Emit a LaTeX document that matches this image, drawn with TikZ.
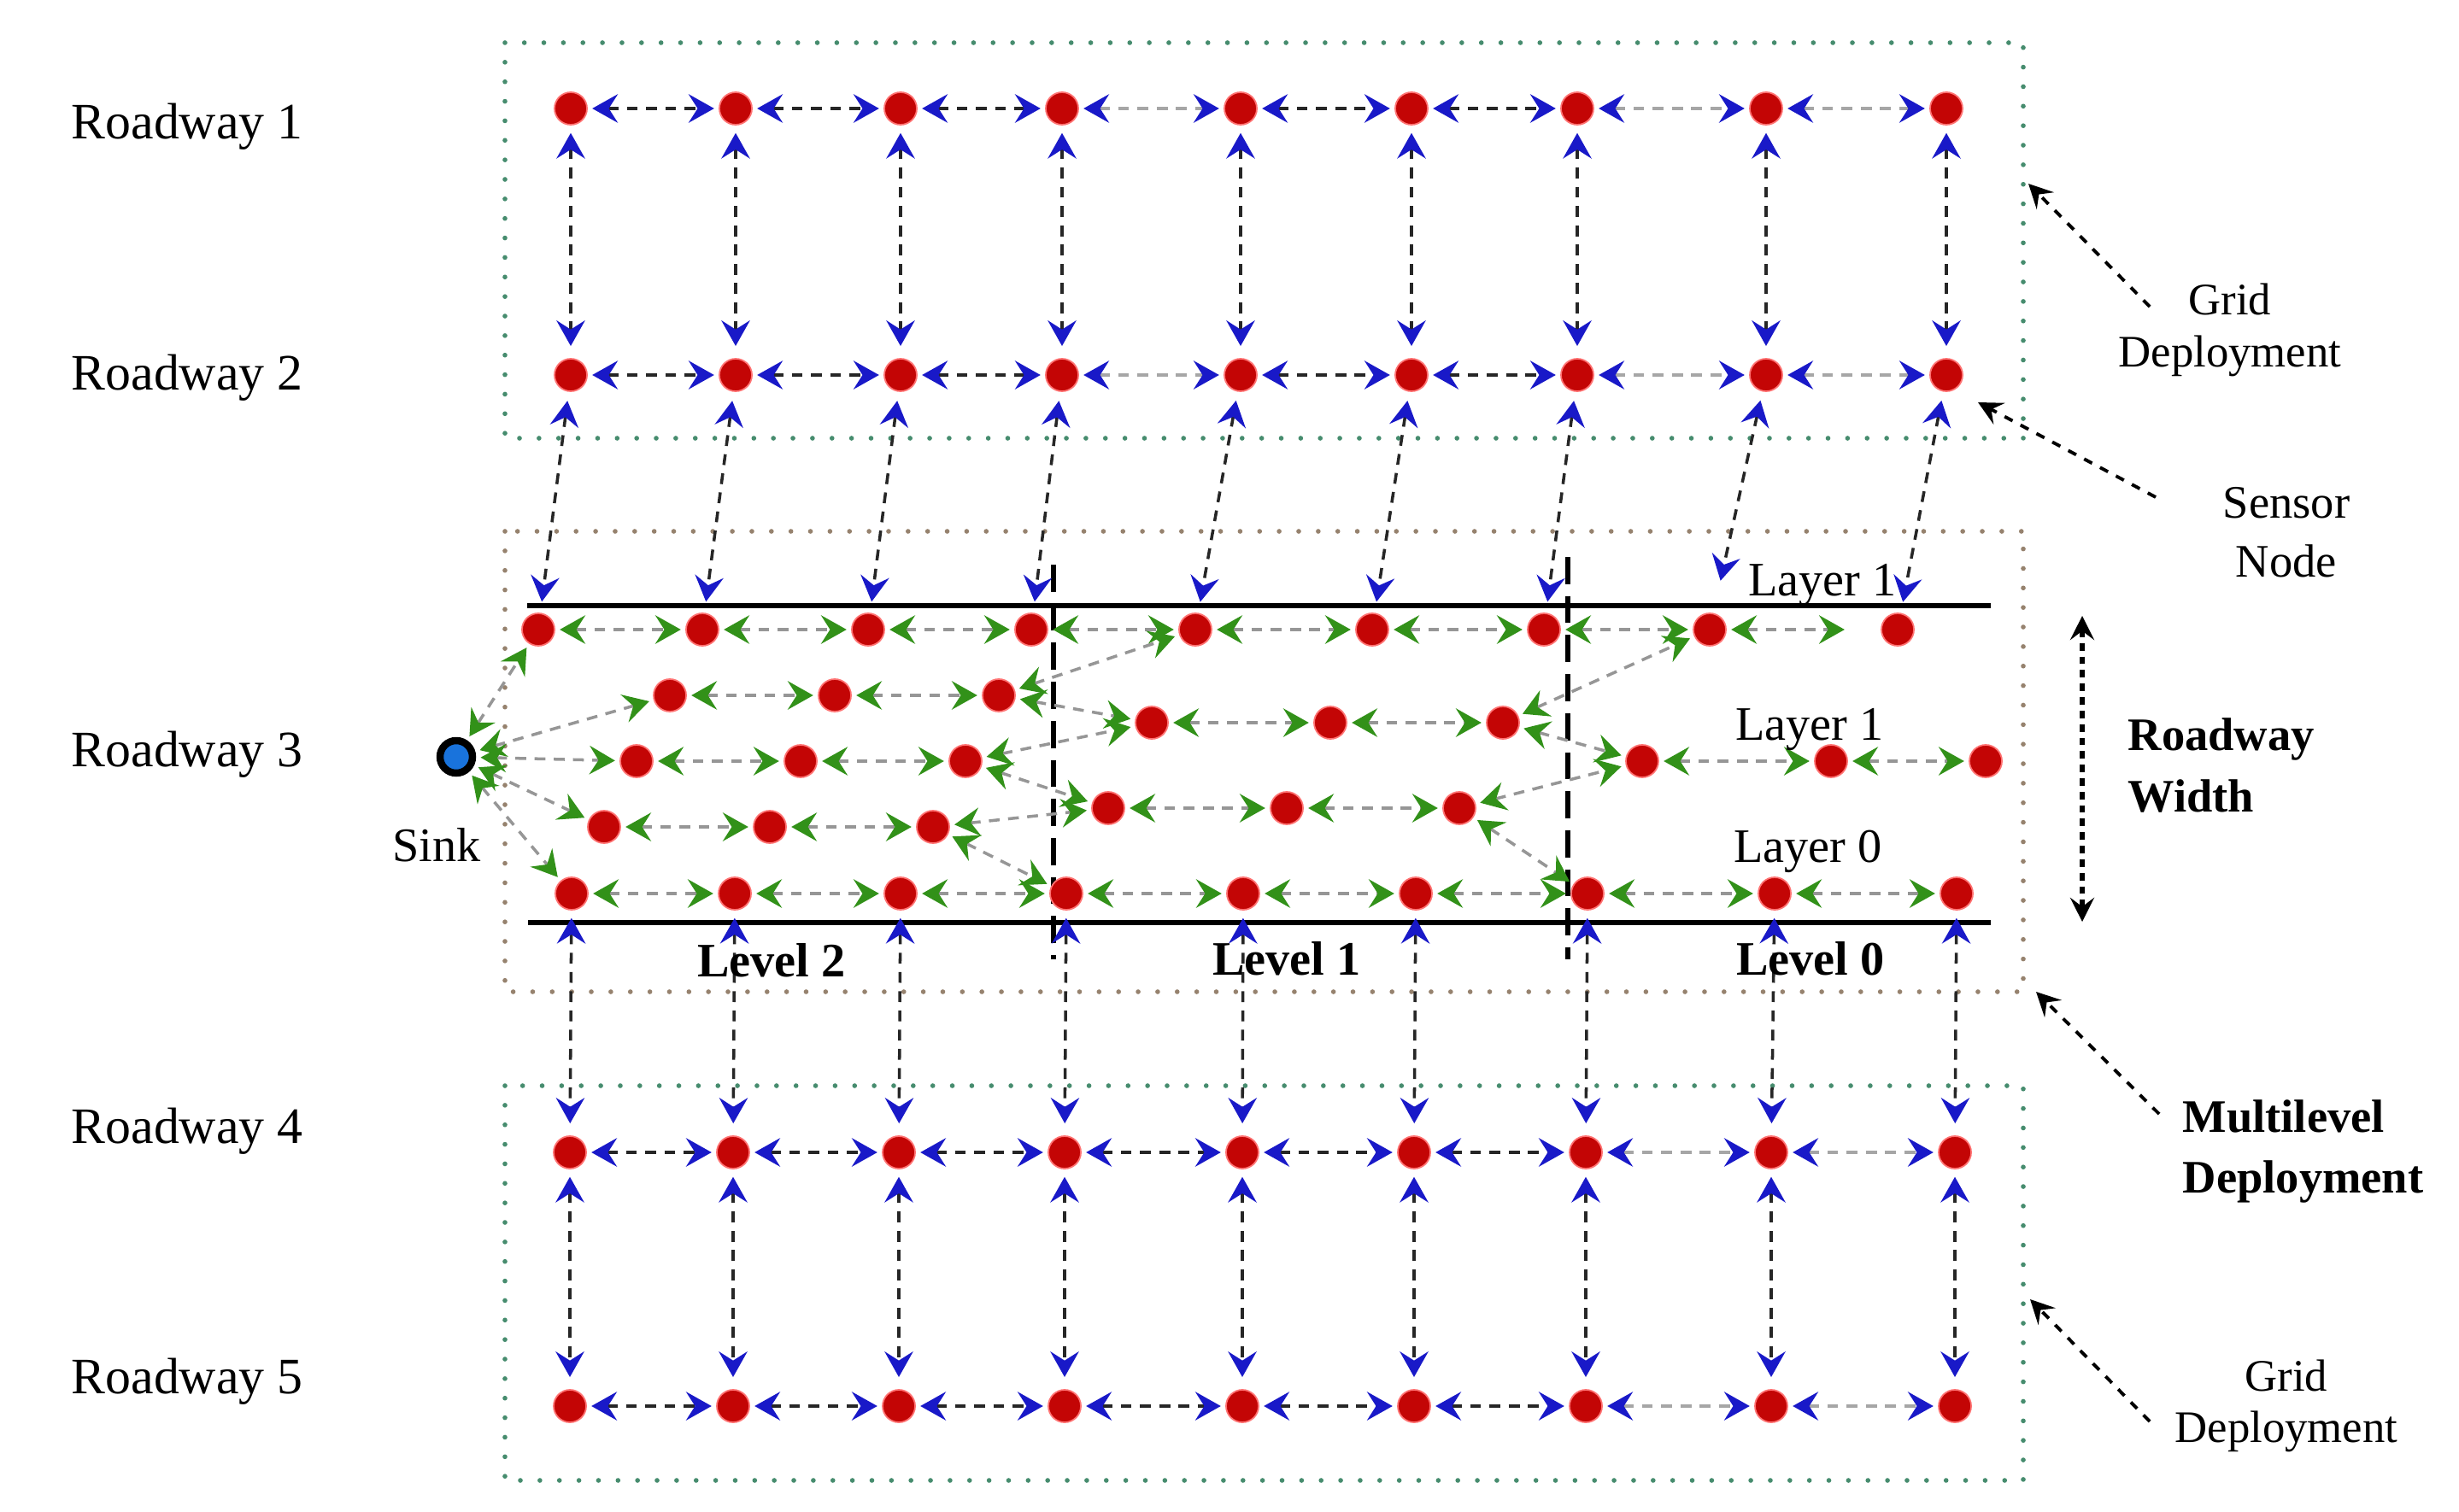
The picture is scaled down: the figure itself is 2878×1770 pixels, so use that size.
\documentclass[tikz,border=0pt]{standalone}
\usepackage{fontspec}
\setmainfont{Liberation Serif}
\usetikzlibrary{arrows.meta}
\definecolor{nodered}{RGB}{195,5,5}
\definecolor{arrblue}{RGB}{25,25,200}
\definecolor{arrgreen}{RGB}{50,145,25}
\definecolor{linkgray}{RGB}{150,150,150}
\definecolor{boxgreen}{RGB}{70,140,110}
\definecolor{boxbrown}{RGB}{150,130,110}
\definecolor{sinkblue}{RGB}{25,115,220}
\begin{document}
\begin{tikzpicture}[x=0.01cm, y=-0.01cm,
		BlueTip/.tip={Stealth[length=8.5pt,width=9.5pt,inset=3pt,color=arrblue]},
		GreenTip/.tip={Stealth[length=8.5pt,width=9.5pt,inset=3pt,color=arrgreen]},
		BlackTip/.tip={Stealth[length=8pt,width=8pt,inset=3pt,color=black]},
		sensor/.style={circle, fill=nodered, draw=red!55!white, line width=0.5pt, inner sep=0pt, minimum size=0.38cm},
		sinknode/.style={circle, fill=sinkblue, draw=black, line width=2.4pt, inner sep=0pt, minimum size=0.38cm},
		hlink/.style={draw=black!85, line width=1pt, dash pattern=on 3.6pt off 2.8pt, BlueTip-BlueTip, shorten <=1.5pt, shorten >=1.5pt},
		hlinkl/.style={hlink, draw=black!35},
		vlink/.style={hlink, shorten <=2.5pt, shorten >=4pt},
		downlink/.style={hlink, shorten <=3pt, shorten >=3.7pt},
		glink/.style={draw=linkgray, line width=1pt, dash pattern=on 3.6pt off 2.8pt, GreenTip-GreenTip, shorten <=1.5pt, shorten >=1.5pt},
		gridbox/.style={draw=boxgreen, line width=1.6pt, line cap=round, dash pattern=on 0pt off 6.5pt},
		multibox/.style={gridbox, draw=boxbrown},
		road/.style={line width=1.8pt},
		levelline/.style={line width=1.6pt, dash pattern=on 9pt off 4pt},
		callout/.style={line width=1.1pt, dash pattern=on 3pt off 3pt, -BlackTip},
		widtharrow/.style={line width=1.6pt, dash pattern=on 2.5pt off 2pt, BlackTip-BlackTip},
		roadlbl/.style={font=\fontsize{17}{20}\selectfont, anchor=base west, inner sep=0pt},
		layerlbl/.style={font=\fontsize{16}{19}\selectfont, anchor=base, inner sep=0pt},
		levellbl/.style={font=\fontsize{16}{19}\selectfont\bfseries, anchor=base, inner sep=0pt},
		note/.style={font=\fontsize{15}{17.4}\selectfont, align=center, inner sep=0pt},
		boldnote/.style={font=\fontsize{15.5}{20.2}\selectfont\bfseries, align=left, anchor=west, inner sep=0pt}]
		\useasboundingbox (0,0) rectangle (2878,1770);

		% Deployment boxes
		\draw[gridbox] (591,50) rectangle (2368,513);
		\draw[multibox] (591,622) rectangle (2368,1161);
		\draw[gridbox] (591,1271) rectangle (2368,1733);

		% Road edges and level borders
		\draw[road] (617,709) -- (2330,709);
		\draw[road] (618,1080) -- (2330,1080);
		\draw[levelline] (1233,661) -- (1233,1123);
		\draw[levelline] (1835,652) -- (1835,1123);

		% Roadway labels
		\node[roadlbl] (lbl1) at (83,163) {Roadway 1};
		\node[roadlbl] (lbl2) at (83,457) {Roadway 2};
		\node[roadlbl] (lbl3) at (83,897) {Roadway 3};
		\node[roadlbl] (lbl4) at (83,1338) {Roadway 4};
		\node[roadlbl] (lbl5) at (83,1631) {Roadway 5};

		% Roadway 1
		\node[sensor] (T1) at (668,127) {};
		\node[sensor] (T2) at (861,127) {};
		\node[sensor] (T3) at (1054,127) {};
		\node[sensor] (T4) at (1243,127) {};
		\node[sensor] (T5) at (1452,127) {};
		\node[sensor] (T6) at (1652,127) {};
		\node[sensor] (T7) at (1846,127) {};
		\node[sensor] (T8) at (2067,127) {};
		\node[sensor] (T9) at (2278,127) {};

		% Roadway 2
		\node[sensor] (U1) at (668,439) {};
		\node[sensor] (U2) at (861,439) {};
		\node[sensor] (U3) at (1054,439) {};
		\node[sensor] (U4) at (1243,439) {};
		\node[sensor] (U5) at (1452,439) {};
		\node[sensor] (U6) at (1652,439) {};
		\node[sensor] (U7) at (1846,439) {};
		\node[sensor] (U8) at (2067,439) {};
		\node[sensor] (U9) at (2278,439) {};

		% Roadway 3, top layer
		\node[sensor] (A1) at (630,737) {};
		\node[sensor] (A2) at (822,737) {};
		\node[sensor] (A3) at (1016,737) {};
		\node[sensor] (A4) at (1207,737) {};
		\node[sensor] (A5) at (1399,737) {};
		\node[sensor] (A6) at (1606,737) {};
		\node[sensor] (A7) at (1807,737) {};
		\node[sensor] (A8) at (2001,737) {};
		\node[sensor] (A9) at (2221,737) {};

		% Roadway 3, level 2 inner layers
		\node[sensor] (B1) at (784,814) {};
		\node[sensor] (B2) at (977,814) {};
		\node[sensor] (B3) at (1169,814) {};
		\node[sensor] (C1) at (745,891) {};
		\node[sensor] (C2) at (937,891) {};
		\node[sensor] (C3) at (1130,891) {};
		\node[sensor] (D1) at (707,968) {};
		\node[sensor] (D2) at (901,968) {};
		\node[sensor] (D3) at (1092,968) {};

		% Roadway 3, level 1 inner layers
		\node[sensor] (P1) at (1348,846) {};
		\node[sensor] (P2) at (1557,846) {};
		\node[sensor] (P3) at (1759,846) {};
		\node[sensor] (Q1) at (1297,946) {};
		\node[sensor] (Q2) at (1506,946) {};
		\node[sensor] (Q3) at (1708,946) {};

		% Roadway 3, level 0 inner layer
		\node[sensor] (L1) at (1922,891) {};
		\node[sensor] (L2) at (2143,891) {};
		\node[sensor] (L3) at (2324,891) {};

		% Roadway 3, bottom layer
		\node[sensor] (E1) at (669,1046) {};
		\node[sensor] (E2) at (860,1046) {};
		\node[sensor] (E3) at (1054,1046) {};
		\node[sensor] (E4) at (1248,1046) {};
		\node[sensor] (E5) at (1455,1046) {};
		\node[sensor] (E6) at (1657,1046) {};
		\node[sensor] (E7) at (1858,1046) {};
		\node[sensor] (E8) at (2077,1046) {};
		\node[sensor] (E9) at (2290,1046) {};

		% Roadway 4
		\node[sensor] (V1) at (667,1349) {};
		\node[sensor] (V2) at (858,1349) {};
		\node[sensor] (V3) at (1052,1349) {};
		\node[sensor] (V4) at (1246,1349) {};
		\node[sensor] (V5) at (1454,1349) {};
		\node[sensor] (V6) at (1655,1349) {};
		\node[sensor] (V7) at (1856,1349) {};
		\node[sensor] (V8) at (2073,1349) {};
		\node[sensor] (V9) at (2288,1349) {};

		% Roadway 5
		\node[sensor] (W1) at (667,1646) {};
		\node[sensor] (W2) at (858,1646) {};
		\node[sensor] (W3) at (1052,1646) {};
		\node[sensor] (W4) at (1246,1646) {};
		\node[sensor] (W5) at (1454,1646) {};
		\node[sensor] (W6) at (1655,1646) {};
		\node[sensor] (W7) at (1856,1646) {};
		\node[sensor] (W8) at (2073,1646) {};
		\node[sensor] (W9) at (2288,1646) {};

		% Sink
		\node[sinknode] (S) at (534,886) {};
		\node[layerlbl] (sinklbl) at (511,1008) {Sink};

		% Roadway 1 links
		\draw[hlink] (T1) -- (T2);
		\draw[hlink] (T2) -- (T3);
		\draw[hlink] (T3) -- (T4);
		\draw[hlinkl] (T4) -- (T5);
		\draw[hlink] (T5) -- (T6);
		\draw[hlink] (T6) -- (T7);
		\draw[hlinkl] (T7) -- (T8);
		\draw[hlinkl] (T8) -- (T9);

		% Roadway 2 links
		\draw[hlink] (U1) -- (U2);
		\draw[hlink] (U2) -- (U3);
		\draw[hlink] (U3) -- (U4);
		\draw[hlinkl] (U4) -- (U5);
		\draw[hlink] (U5) -- (U6);
		\draw[hlink] (U6) -- (U7);
		\draw[hlinkl] (U7) -- (U8);
		\draw[hlinkl] (U8) -- (U9);

		% Roadway 1 to Roadway 2
		\draw[vlink] (T1) -- (U1);
		\draw[vlink] (T2) -- (U2);
		\draw[vlink] (T3) -- (U3);
		\draw[vlink] (T4) -- (U4);
		\draw[vlink] (T5) -- (U5);
		\draw[vlink] (T6) -- (U6);
		\draw[vlink] (T7) -- (U7);
		\draw[vlink] (T8) -- (U8);
		\draw[vlink] (T9) -- (U9);

		% Roadway 2 to Roadway 3
		\draw[downlink] (U1) -- (A1);
		\draw[downlink] (U2) -- (A2);
		\draw[downlink] (U3) -- (A3);
		\draw[downlink] (U4) -- (A4);
		\draw[downlink] (U5) -- (A5);
		\draw[downlink] (U6) -- (A6);
		\draw[downlink] (U7) -- (A7);
		\draw[downlink, shorten >=11pt] (U8) -- (A8);
		\draw[downlink] (U9) -- (A9);

		% Sink links
		\draw[glink] (S) -- (A1);
		\draw[glink] (S) -- (B1);
		\draw[glink] (S) -- (C1);
		\draw[glink] (S) -- (D1);
		\draw[glink] (S) -- (E1);

		% Top layer links
		\draw[glink] (A1) -- (A2);
		\draw[glink] (A2) -- (A3);
		\draw[glink] (A3) -- (A4);
		\draw[glink] (A4) -- (A5);
		\draw[glink] (A5) -- (A6);
		\draw[glink] (A6) -- (A7);
		\draw[glink] (A7) -- (A8);
		\draw[glink, shorten >=12pt] (A8) -- (A9);

		% Level 2 inner links
		\draw[glink] (B1) -- (B2);
		\draw[glink] (B2) -- (B3);
		\draw[glink] (C1) -- (C2);
		\draw[glink] (C2) -- (C3);
		\draw[glink] (D1) -- (D2);
		\draw[glink] (D2) -- (D3);

		% Level 1 and level 0 inner links
		\draw[glink] (P1) -- (P2);
		\draw[glink] (P2) -- (P3);
		\draw[glink] (Q1) -- (Q2);
		\draw[glink] (Q2) -- (Q3);
		\draw[glink] (L1) -- (L2);
		\draw[glink] (L2) -- (L3);

		% Links across levels
		\draw[glink] (B3) -- (A5);
		\draw[glink] (B3) -- (P1);
		\draw[glink] (C3) -- (P1);
		\draw[glink] (C3) -- (Q1);
		\draw[glink] (D3) -- (Q1);
		\draw[glink] (D3) -- (E4);
		\draw[glink] (P3) -- (A8);
		\draw[glink] (P3) -- (L1);
		\draw[glink] (Q3) -- (L1);
		\draw[glink] (Q3) -- (E7);

		% Bottom layer links
		\draw[glink] (E1) -- (E2);
		\draw[glink] (E2) -- (E3);
		\draw[glink] (E3) -- (E4);
		\draw[glink] (E4) -- (E5);
		\draw[glink] (E5) -- (E6);
		\draw[glink] (E6) -- (E7);
		\draw[glink] (E7) -- (E8);
		\draw[glink] (E8) -- (E9);

		% Roadway 3 to Roadway 4
		\draw[vlink] (E1) -- (V1);
		\draw[vlink] (E2) -- (V2);
		\draw[vlink] (E3) -- (V3);
		\draw[vlink] (E4) -- (V4);
		\draw[vlink] (E5) -- (V5);
		\draw[vlink] (E6) -- (V6);
		\draw[vlink] (E7) -- (V7);
		\draw[vlink] (E8) -- (V8);
		\draw[vlink] (E9) -- (V9);

		% Roadway 4 links
		\draw[hlink] (V1) -- (V2);
		\draw[hlink] (V2) -- (V3);
		\draw[hlink] (V3) -- (V4);
		\draw[hlink] (V4) -- (V5);
		\draw[hlink] (V5) -- (V6);
		\draw[hlink] (V6) -- (V7);
		\draw[hlinkl] (V7) -- (V8);
		\draw[hlinkl] (V8) -- (V9);

		% Roadway 4 to Roadway 5
		\draw[vlink] (V1) -- (W1);
		\draw[vlink] (V2) -- (W2);
		\draw[vlink] (V3) -- (W3);
		\draw[vlink] (V4) -- (W4);
		\draw[vlink] (V5) -- (W5);
		\draw[vlink] (V6) -- (W6);
		\draw[vlink] (V7) -- (W7);
		\draw[vlink] (V8) -- (W8);
		\draw[vlink] (V9) -- (W9);

		% Roadway 5 links
		\draw[hlink] (W1) -- (W2);
		\draw[hlink] (W2) -- (W3);
		\draw[hlink] (W3) -- (W4);
		\draw[hlink] (W4) -- (W5);
		\draw[hlink] (W5) -- (W6);
		\draw[hlink] (W6) -- (W7);
		\draw[hlinkl] (W7) -- (W8);
		\draw[hlinkl] (W8) -- (W9);

		% Layer and level labels
		\node[layerlbl] (lay1a) at (2133,698) {Layer 1};
		\node[layerlbl] (lay1b) at (2118,866) {Layer 1};
		\node[layerlbl] (lay0) at (2116,1009) {Layer 0};
		\node[levellbl] (lev2) at (903,1143) {Level 2};
		\node[levellbl] (lev1) at (1506,1141) {Level 1};
		\node[levellbl] (lev0) at (2119,1141) {Level 0};

		% Right hand notes
		\node[note] (gridtop) at (2610,386) {Grid\\Deployment};
		\node[note, font=\fontsize{15.5}{19.6}\selectfont] (sensornote) at (2676,623) {Sensor\\Node};
		\node[boldnote] (widthnote) at (2490,896) {Roadway\\Width};
		\node[boldnote] (multinote) at (2554,1348) {Multilevel\\Deployment};
		\node[note, font=\fontsize{15}{17.1}\selectfont] (gridbot) at (2676,1646) {Grid\\Deployment};

		\coordinate (gt0) at (2516,359);
		\coordinate (gt1) at (2374,215);
		\coordinate (sn0) at (2523,582);
		\coordinate (sn1) at (2315,471);
		\coordinate (rw0) at (2437,721);
		\coordinate (rw1) at (2437,1079);
		\coordinate (md0) at (2527,1304);
		\coordinate (md1) at (2383,1161);
		\coordinate (gb0) at (2516,1664);
		\coordinate (gb1) at (2376,1521);

		\draw[callout] (gt0) -- (gt1);
		\draw[callout] (sn0) -- (sn1);
		\draw[widtharrow] (rw0) -- (rw1);
		\draw[callout] (md0) -- (md1);
		\draw[callout] (gb0) -- (gb1);

	\end{tikzpicture}
\end{document}
